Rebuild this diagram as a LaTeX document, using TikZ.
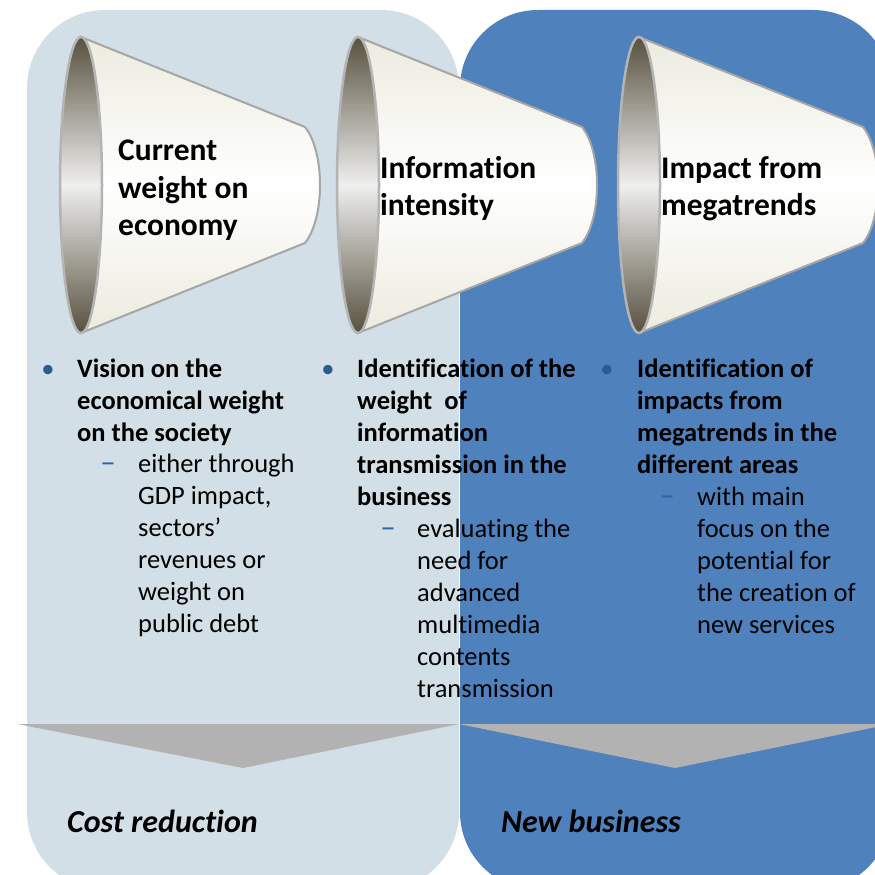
\documentclass[tikz,border=0pt]{standalone}
\usepackage{fontspec}
\setmainfont{Carlito}[Ligatures={NoCommon}]
\definecolor{lightpanel}{HTML}{D2DFE6}
\definecolor{bluepanel}{HTML}{4F81BD}
\definecolor{arrowgray}{HTML}{B2B2B2}
\definecolor{rimdark}{HTML}{57513F}
\definecolor{rimlight}{HTML}{EFEFEF}
\definecolor{rimgray}{HTML}{B4B4B4}
\definecolor{cream}{HTML}{ECEBDF}
\definecolor{conegray}{HTML}{A6A6A6}
\definecolor{bulletblue}{HTML}{2C5A92}
\definecolor{dashblue}{HTML}{2F64A6}
\tikzset{
  panel/.style={rounded corners=78pt},
  cone/.style={draw=conegray, line width=2pt, top color=cream, bottom color=cream, middle color=white},
  rim/.style={draw=rimgray, line width=2.5pt, top color=rimdark, bottom color=rimdark, middle color=rimlight},
  title/.style={anchor=base west, inner sep=0pt, font=\fontsize{31.5}{38}\selectfont\bfseries},
  headtxt/.style={anchor=base west, inner sep=0pt, font=\fontsize{26.5}{32}\selectfont\bfseries},
  subtxt/.style={anchor=base west, inner sep=0pt, font=\fontsize{26.5}{32}\selectfont},
  bul/.style={anchor=base, inner sep=0pt, text=bulletblue, font=\fontsize{26.5}{32}\selectfont},
  dsh/.style={anchor=base, inner sep=0pt, text=dashblue, font=\fontsize{31}{32}\selectfont},
  outcome/.style={anchor=base west, inner sep=0pt, font=\fontsize{32}{38}\selectfont\bfseries\itshape},
}
\begin{document}
\begin{tikzpicture}[x=1pt,y=-1pt]
\useasboundingbox (0,0) rectangle (875,875);
\clip (0,0) rectangle (875,875);
% panels
\fill[lightpanel, panel] (27,10) rectangle (459,890);
\fill[bluepanel, panel] (460,10) rectangle (891,890);
% arrows
\fill[arrowgray] (17,724) -- (459,724) -- (243,768) -- cycle;
\fill[arrowgray] (459,724) -- (891,724) -- (675,768) -- cycle;
% funnels
\foreach \cx in {81,358,639}{
  \path[cone] (\cx,37) -- (\cx+224,127) .. controls (\cx+244,152) and (\cx+244,218) .. (\cx+224,243) -- (\cx,333) -- cycle;
  \path[rim] (\cx,185) ellipse [x radius=21pt, y radius=148pt];
}
% funnel titles
\node[title] (t1a) at (118,160) {Current};
\node[title] (t1b) at (118,198) {weight on};
\node[title] (t1c) at (118,235) {economy};
\node[title] (t2a) at (380,178) {Information};
\node[title] (t2b) at (380,215) {intensity};
\node[title] (t3a) at (661,178) {Impact from};
\node[title] (t3b) at (661,215) {megatrends};
% bullets and dashes
\node[bul] (b1) at (48,377) {•};
\node[bul] (b2) at (328,377) {•};
\node[bul] (b3) at (607,377) {•};
\node[dsh] (d1) at (108,472) {–};
\node[dsh] (d2) at (388,537) {–};
\node[dsh] (d3) at (667,505) {–};
% column 1
\foreach \t [count=\i from 0] in {Vision on the, economical weight, on the society}
  \node[headtxt] (c1h\i) at (77,377+32*\i) {\t};
\foreach \t [count=\i from 0] in {either through, {GDP impact,}, sectors’, revenues or, weight on, public debt}
  \node[subtxt] (c1s\i) at (138,472+32*\i) {\t};
% column 2
\foreach \t [count=\i from 0] in {Identification of the, weight~ of, information, transmission in the, business}
  \node[headtxt] (c2h\i) at (357,377+32*\i) {\t};
\foreach \t [count=\i from 0] in {evaluating the, need for, advanced, multimedia, contents, transmission}
  \node[subtxt] (c2s\i) at (417,537+32*\i) {\t};
% column 3
\foreach \t [count=\i from 0] in {Identification of, impacts from, megatrends in the, different areas}
  \node[headtxt] (c3h\i) at (637,377+32*\i) {\t};
\foreach \t [count=\i from 0] in {with main, focus on the, potential for, the creation of, new services}
  \node[subtxt] (c3s\i) at (697,505+32*\i) {\t};
% outcomes
\node[outcome] (o1) at (67,832) {Cost reduction};
\node[outcome] (o2) at (501,832) {New business};
\end{tikzpicture}
\end{document}
